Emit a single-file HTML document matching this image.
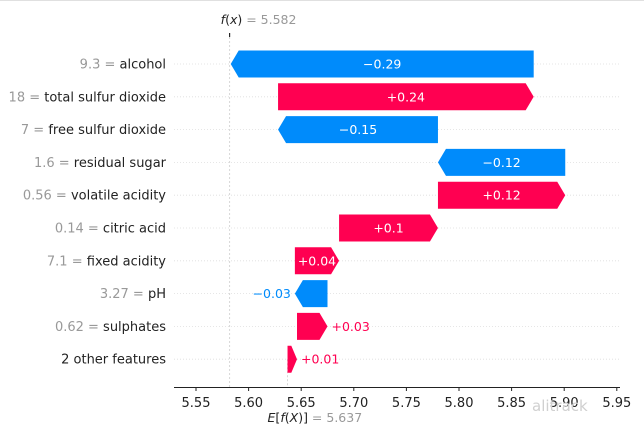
<!DOCTYPE html>
<html><head><meta charset="utf-8"><style>
html,body{margin:0;padding:0;background:#fff;}
svg{display:block;font-family:"DejaVu Sans","Liberation Sans",sans-serif;}
</style></head><body>
<svg id="chart" width="644" height="432" viewBox="0 0 644 432">
<line x1="0" y1="0.5" x2="644" y2="0.5" stroke="#e0e0e0" stroke-width="1"/>
<g id="grid"></g><g id="bars"></g><g id="labels"></g><g id="axis"></g>
<text x="532" y="411" font-size="15" fill="#d0d0d0">alitrack</text>
</svg>
<script>
const features = ["alcohol","total sulfur dioxide","free sulfur dioxide","residual sugar","volatile acidity","citric acid","fixed acidity","pH","sulphates","2 other features"];
const featureValues = ["9.3","18","7","1.6","0.56","0.14","7.1","3.27","0.62",""];
const shapValues = [-0.288,0.243,-0.152,-0.121,0.121,0.094,0.042,-0.031,0.029,0.009];
const shapLabels = ["\u22120.29","+0.24","\u22120.15","\u22120.12","+0.12","+0.1","+0.04","\u22120.03","+0.03","+0.01"];
const baseValue = 5.637;
const fxValue = 5.582;
const ticks = [5.55,5.60,5.65,5.70,5.75,5.80,5.85,5.90,5.95];
const tickLabels = ["5.55","5.60","5.65","5.70","5.75","5.80","5.85","5.90","5.95"];

const NS="http://www.w3.org/2000/svg";
const X0=196, PXU=1052, ROW0=64, ROWH=32.8, BH=27;
function xs(v){return X0+(v-5.55)*PXU;}
function ys(i){return ROW0+i*ROWH;}
function mk(tag,attrs,parent){const e=document.createElementNS(NS,tag);for(const k in attrs)e.setAttribute(k,attrs[k]);parent.appendChild(e);return e;}
const grid=document.getElementById('grid'),bars=document.getElementById('bars'),labels=document.getElementById('labels'),axis=document.getElementById('axis');
const BLUE="#008bfb", RED="#ff0051";

const starts=new Array(features.length);
let cur=baseValue;
for(let i=features.length-1;i>=0;i--){starts[i]=cur;cur+=shapValues[i];}

for(let i=0;i<features.length;i++){
  const y=ys(i);
  const gl=mk('line',{x1:174,y1:y,x2:620,y2:y,stroke:"#ddd","stroke-width":0.8,"stroke-dasharray":"1,2"},grid);
  
  
  const t=mk('text',{x:166,y:y+4.5,"text-anchor":"end","font-size":13},labels);
  
  
  if(featureValues[i]!==""){const s=mk('tspan',{fill:"#999"},t);s.textContent=featureValues[i]+" = ";}
  const s2=mk('tspan',{fill:"#222"},t);s2.textContent=features[i];

  const v=shapValues[i], a=xs(starts[i]), b=xs(starts[i]+v);
  const pos=v>0, col=pos?RED:BLUE;
  const w=Math.abs(b-a), hw=Math.min(8,w*0.6), top=y-BH/2, bot=y+BH/2;
  let pts;
  if(pos){pts=[[a,top],[b-hw,top],[b,y],[b-hw,bot],[a,bot]];}
  else{pts=[[a,top],[b+hw,top],[b,y],[b+hw,bot],[a,bot]];}
  const p=mk('polygon',{points:pts.map(q=>q.join(',')).join(' '),fill:col},bars);
  
  
  const lt=mk('text',{"font-size":12.5,y:y+4.5},labels);
  
  
  lt.textContent=shapLabels[i];
  if(w>40){lt.setAttribute('x',(a+b)/2);lt.setAttribute('text-anchor','middle');lt.setAttribute('fill','#fff');}
  else if(pos){lt.setAttribute('x',b+4);lt.setAttribute('fill',col);}
  else{lt.setAttribute('x',Math.min(a,b)-4);lt.setAttribute('text-anchor','end');lt.setAttribute('fill',col);}
}
const fxl=mk('line',{x1:xs(fxValue),y1:33,x2:xs(fxValue),y2:387,stroke:"#ccc","stroke-width":0.8,"stroke-dasharray":"2,2"},grid);


mk('line',{x1:xs(fxValue),y1:33,x2:xs(fxValue),y2:37,stroke:"#000","stroke-width":1},grid);
const exl=mk('line',{x1:xs(baseValue),y1:ys(9),x2:xs(baseValue),y2:387,stroke:"#ccc","stroke-width":0.8,"stroke-dasharray":"2,2"},grid);


const al=mk('line',{x1:174,y1:387.5,x2:620,y2:387.5,stroke:"#222","stroke-width":1},axis);


ticks.forEach((t,i)=>{
  const x=xs(t);
  mk('line',{x1:x,y1:387,x2:x,y2:391,stroke:"#222","stroke-width":1},axis);
  const tt=mk('text',{x:x,y:407,"text-anchor":"middle","font-size":13,fill:"#222"},axis);
  
  
  tt.textContent=tickLabels[i];
});
const fxt=mk('text',{x:xs(fxValue)-9,y:24,"font-size":12.5,fill:"#222"},axis);


fxt.innerHTML='<tspan font-style="italic">f</tspan>(<tspan font-style="italic">x</tspan>) <tspan fill="#999">= '+fxValue.toFixed(3)+'</tspan>';
const ext=mk('text',{x:xs(baseValue)-20,y:422,"font-size":12.5,fill:"#222"},axis);


ext.innerHTML='<tspan font-style="italic">E</tspan>[<tspan font-style="italic">f</tspan>(<tspan font-style="italic">X</tspan>)] <tspan fill="#999">= '+baseValue.toFixed(3)+'</tspan>';
</script>
</body></html>
